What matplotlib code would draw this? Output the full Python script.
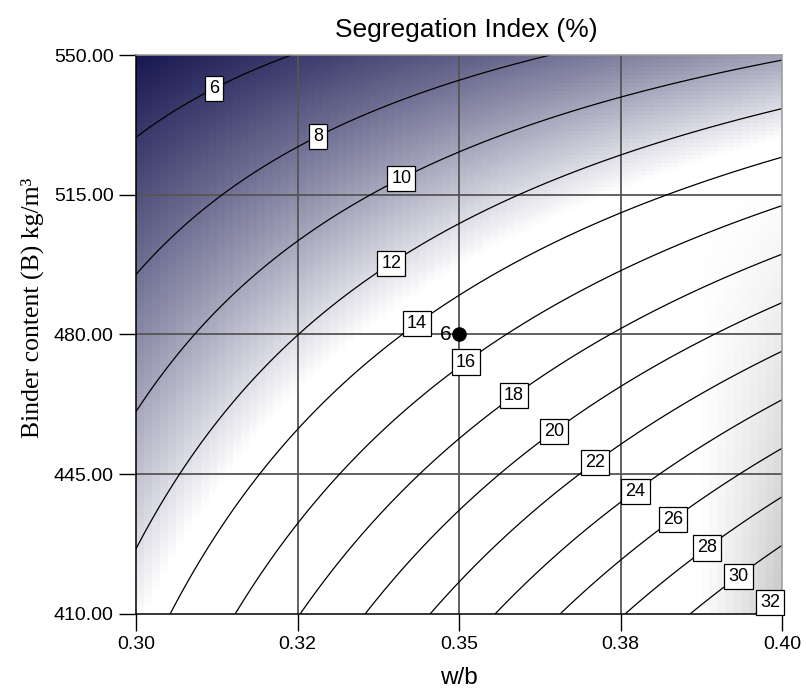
import numpy as np
import matplotlib
matplotlib.use("Agg")
import matplotlib.pyplot as plt

# Factor ranges
wb_range = [0.30, 0.40]
binder_range = [410.0, 550.0]

# Fitted response (coded units u, v in [0, 1]):
# SI = b0 + b1*u + b2*v + b12*u*v
coef = [12.95, 19.88, -8.15, -14.89]

levels = [6, 8, 10, 12, 14, 16, 18, 20, 22, 24, 26, 28, 30, 32]
label_pos = [(0.3112, 544.5), (0.3272, 532.7), (0.3400, 522.5), (0.3385, 500.4),
             (0.3424, 485.2), (0.3499, 475.7), (0.3574, 467.2), (0.3635, 458.4),
             (0.3699, 450.4), (0.3761, 443.4), (0.3818, 436.6), (0.3870, 429.6),
             (0.3918, 422.6), (0.3965, 416.5)]

design_point = (0.35, 480.0)
design_reps = 6

x_ticks = [0.30, 0.325, 0.35, 0.375, 0.40]
x_ticklabels = ["0.30", "0.32", "0.35", "0.38", "0.40"]
y_ticks = [410, 445, 480, 515, 550]
y_ticklabels = ["410.00", "445.00", "480.00", "515.00", "550.00"]


def response(w, b):
    u = (w - wb_range[0]) / (wb_range[1] - wb_range[0])
    v = (b - binder_range[0]) / (binder_range[1] - binder_range[0])
    return coef[0] + coef[1] * u + coef[2] * v + coef[3] * u * v


fig = plt.figure(figsize=(8.06, 6.93), dpi=100)
ax = fig.add_axes([136 / 806, 1 - 614 / 693, (782 - 136) / 806, (614 - 55) / 693])

# Coarse shaded surface: navy for low values, white in the middle, grey at the high end
nx, ny = 80, 140
xc = np.linspace(wb_range[0], wb_range[1], nx + 1)
yc = np.linspace(binder_range[0], binder_range[1], ny + 1)
xm = 0.5 * (xc[:-1] + xc[1:])
ym = 0.5 * (yc[:-1] + yc[1:])
XM, YM = np.meshgrid(xm, ym)
Z = response(XM, YM)

zlo = 4.8
zwhite = 13.2
t = np.clip((zwhite - Z) / (zwhite - zlo), 0, 1)
navy = np.array([24, 24, 82]) / 255.0
rgb = np.ones(Z.shape + (3,)) * (1 - t[..., None]) + navy * t[..., None]

gx = np.clip((XM - 0.3875) / 0.0125, 0, 1)
gz = np.clip((Z - 15.0) / 17.8, 0, 1)
dark = 0.22 * gx * gz
rgb = rgb * (1 - dark[..., None])

ax.imshow(rgb, origin="lower", aspect="auto", interpolation="nearest",
          extent=[wb_range[0], wb_range[1], binder_range[0], binder_range[1]], zorder=0)

# Grid
for xt in x_ticks[1:-1]:
    ax.axvline(xt, color="#555555", lw=1.3, zorder=1)
for yt in y_ticks[1:-1]:
    ax.axhline(yt, color="#555555", lw=1.3, zorder=1)

# Contours
xf = np.linspace(wb_range[0], wb_range[1], 400)
yf = np.linspace(binder_range[0], binder_range[1], 400)
XF, YF = np.meshgrid(xf, yf)
ZF = response(XF, YF)
cs = ax.contour(XF, YF, ZF, levels=levels, colors="black", linewidths=0.9, zorder=2)
texts = ax.clabel(cs, levels, manual=label_pos, inline=False, fmt="%d", fontsize=13)
for tx in texts:
    tx.set_rotation(0)
    tx.set_fontfamily("Liberation Sans")
    tx.set_bbox(dict(facecolor="white", edgecolor="black", linewidth=0.9, pad=3.0))
    tx.set_zorder(4)
    tx.set_clip_on(False)

# Design point
ax.plot([design_point[0]], [design_point[1]], "o", color="black", markersize=9.5, zorder=5)
ax.text(design_point[0] - 0.0012, design_point[1], str(design_reps), ha="right", va="center",
        fontsize=15, family="Liberation Sans", zorder=5)

ax.set_xlim(wb_range)
ax.set_ylim(binder_range)
ax.set_xticks(x_ticks)
ax.set_xticklabels(x_ticklabels)
ax.set_yticks(y_ticks)
ax.set_yticklabels(y_ticklabels)
ax.tick_params(axis="both", direction="out", length=12, width=1.0, pad=4,
               labelsize=14, colors="black")
for lab in ax.get_xticklabels() + ax.get_yticklabels():
    lab.set_fontfamily("Liberation Sans")
for side in ["left", "bottom"]:
    ax.spines[side].set_color("black")
    ax.spines[side].set_linewidth(1.1)
for side in ["top", "right"]:
    ax.spines[side].set_color("#999999")
    ax.spines[side].set_linewidth(1.1)

fig.text(466 / 806, 1 - 30 / 693, "Segregation Index (%)", ha="center", va="center",
         fontsize=19, family="Liberation Sans")
fig.text(459 / 806, 1 - 678 / 693, "w/b", ha="center", va="center",
         fontsize=17.5, family="Liberation Sans")
fig.text(32 / 806, 1 - 308 / 693, "Binder content (B) kg/m\u00b3", ha="center", va="center",
         rotation=90, fontsize=18.5, family="Liberation Serif")

fig.savefig("out.png", dpi=100)
